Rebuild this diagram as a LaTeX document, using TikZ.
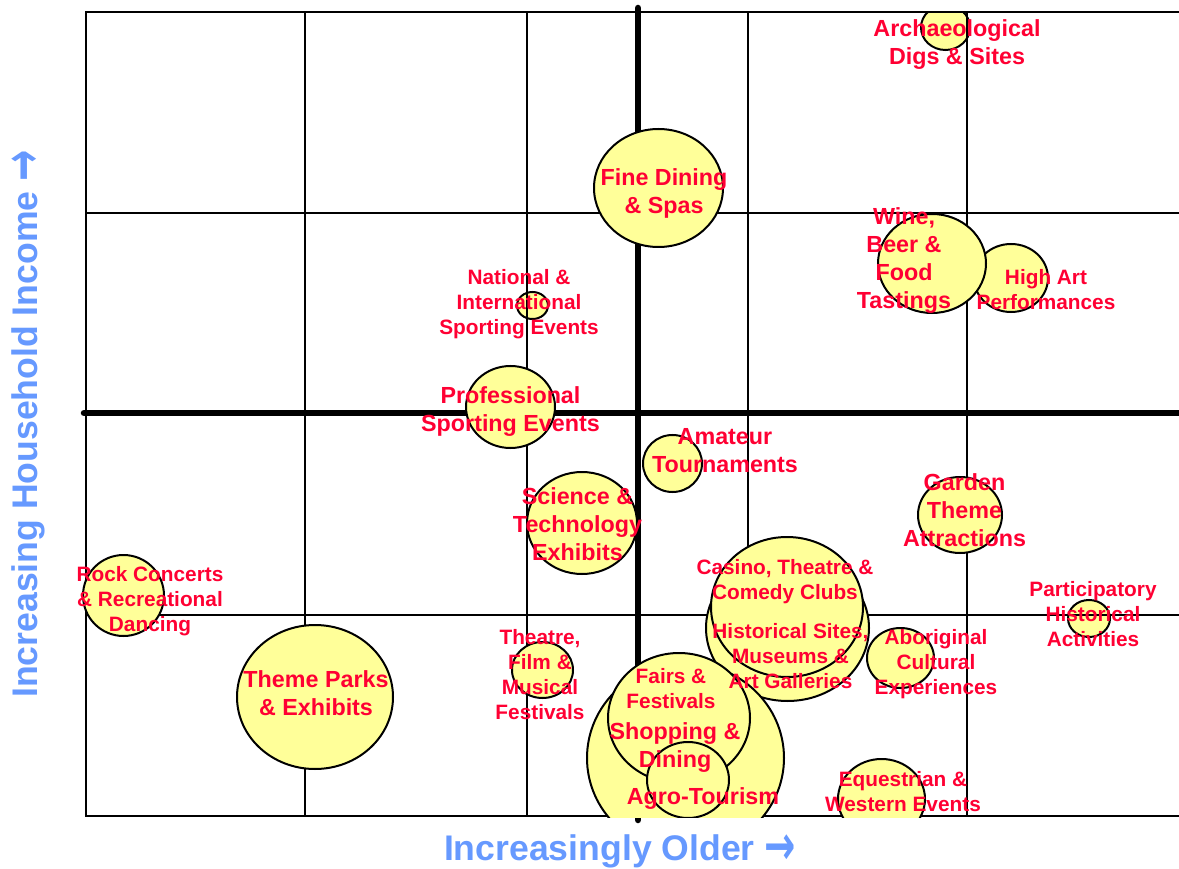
\documentclass[tikz,border=0pt]{standalone}
\usepackage{fontspec}
\usepackage{graphicx}
\setmainfont{Liberation Sans}
\newfontfamily\arrowfont{DejaVu Sans}
\usetikzlibrary{shapes.geometric}
\definecolor{lbred}{HTML}{FF0033}
\definecolor{bubfill}{HTML}{FFFF99}
\definecolor{axblue}{HTML}{6699FF}
\tikzset{
  bubble/.style={ellipse, draw=black, line width=2pt, fill=bubfill, inner sep=0pt, outer sep=0pt},
  bigtxt/.style={text=lbred, font=\fontsize{23.3}{28}\selectfont\bfseries, align=center, inner sep=0pt},
  smalltxt/.style={text=lbred, font=\fontsize{20.8}{25}\selectfont\bfseries, align=center, inner sep=0pt},
  gridline/.style={line width=2pt, black},
  thickaxis/.style={line width=6.5pt, black, line cap=round},
  axlabel/.style={text=axblue, font=\fontsize{35.6}{40}\selectfont\bfseries, inner sep=0pt},
}
\newcommand{\bub}[5]{\node[bubble, minimum width=#4pt, minimum height=#5pt] (#1) at (#2,#3) {};}
\newcommand{\bigarrow}{\raisebox{-0.12em}{\scalebox{1.05}[1.55]{\arrowfont →}}}
\begin{document}
\begin{tikzpicture}[x=1pt, y=-1pt]
\fill[white] (0,0) rectangle (1179,869);
\useasboundingbox (0,0) rectangle (1179,869);

% bubbles beneath the grid
\begin{scope}
\clip (0,12) rectangle (1179,817);
\bub{arch}{945.5}{27.5}{49}{45}
\bub{natl}{532.5}{305.5}{31}{27}
\bub{partic}{1089}{618.5}{42}{37}
\end{scope}

% grid
\coordinate (tl) at (86,12);
\coordinate (tr) at (1190,12);
\coordinate (bl) at (86,816);
\coordinate (br) at (1190,816);
\draw[gridline] (tr) -- (tl) -- (bl) -- (br);
\foreach \x in {305,527,748,967} {
  \draw[gridline] (\x,12) -- (\x,816);
}
\foreach \y in {213,615} {
  \draw[gridline] (86,\y) -- (1190,\y);
}
\coordinate (vtop) at (638,8);
\coordinate (vbot) at (638,820);
\coordinate (hleft) at (84,413);
\coordinate (hright) at (1195,413);
\draw[thickaxis] (vtop) -- (vbot);
\draw[thickaxis] (hleft) -- (hright);

% bubbles above the grid
\begin{scope}
\clip (0,12) rectangle (1179,817);
\bub{highart}{1011}{278}{74}{68}
\bub{wine}{932}{263.5}{108}{99}
\bub{fine}{658.5}{188}{129}{118}
\bub{prof}{510.5}{407}{89}{82}
\bub{amat}{672.5}{463.5}{59}{57}
\bub{sci}{582}{523}{110}{102}
\bub{garden}{960}{515}{84}{76}
\bub{rock}{123.5}{595.5}{81}{81}
\bub{theme}{315}{697}{156}{144}
\bub{theatre}{542.5}{670}{61}{56}
\bub{abor}{900.5}{658}{67}{60}
\bub{hist}{787.5}{628}{163}{146}
\bub{casino}{787}{607}{152}{140}
\bub{shop}{685.5}{758}{197}{190}
\bub{fairs}{679}{718}{142}{130}
\bub{agro}{688}{780}{82}{76}
\bub{equest}{881.5}{799}{87}{80}
\end{scope}

% labels
\node[bigtxt] (tarch) at (957,45) {Archaeological\\Digs \& Sites};
\node[bigtxt] (tfine) at (664,193) {Fine Dining\\\& Spas};
\node[bigtxt] (twine) at (904,261) {Wine,\\Beer \&\\Food\\Tastings};
\node[smalltxt] (thigh) at (1046,289.5) {High Art\\Performances};
\node[smalltxt] (tnatl) at (519,304) {National \&\\International\\Sporting Events};
\node[bigtxt] (tprof) at (510.5,412) {Professional\\Sporting Events};
\node[bigtxt] (tamat) at (725,451) {Amateur\\Tournaments};
\node[bigtxt] (tsci) at (577.5,524) {Science \&\\Technology\\Exhibits};
\node[bigtxt] (tgarden) at (964.5,510) {Garden\\Theme\\Attractions};
\node[smalltxt] (trock) at (150,601) {Rock Concerts\\\& Recreational\\Dancing};
\node[bigtxt] (ttheme) at (316,693) {Theme Parks\\\& Exhibits};
\node[smalltxt] (tcasino) at (785,582) {Casino, Theatre \&\\Comedy Clubs};
\node[smalltxt] (thist) at (790.5,656) {Historical Sites,\\Museums \&\\Art Galleries};
\node[smalltxt] (tabor) at (936,664) {Aboriginal\\Cultural\\Experiences};
\node[smalltxt] (tpartic) at (1093,614.5) {Participatory\\Historical\\Activities};
\node[smalltxt] (ttheatre) at (540,674.5) {Theatre,\\Film \&\\Musical\\Festivals};
\node[smalltxt] (tfairs) at (671,689) {Fairs \&\\Festivals};
\node[bigtxt] (tshop) at (675,747.5) {Shopping \&\\Dining};
\node[bigtxt] (tagro) at (703,799) {Agro-Tourism};
\node[smalltxt] (tequest) at (903,792) {Equestrian \&\\Western Events};

% axis labels
\node[axlabel] (xlab) at (620,851) {Increasingly Older \bigarrow};
\node[axlabel, rotate=90] (ylab) at (28,424) {Increasing Household Income \bigarrow};
\end{tikzpicture}
\end{document}
